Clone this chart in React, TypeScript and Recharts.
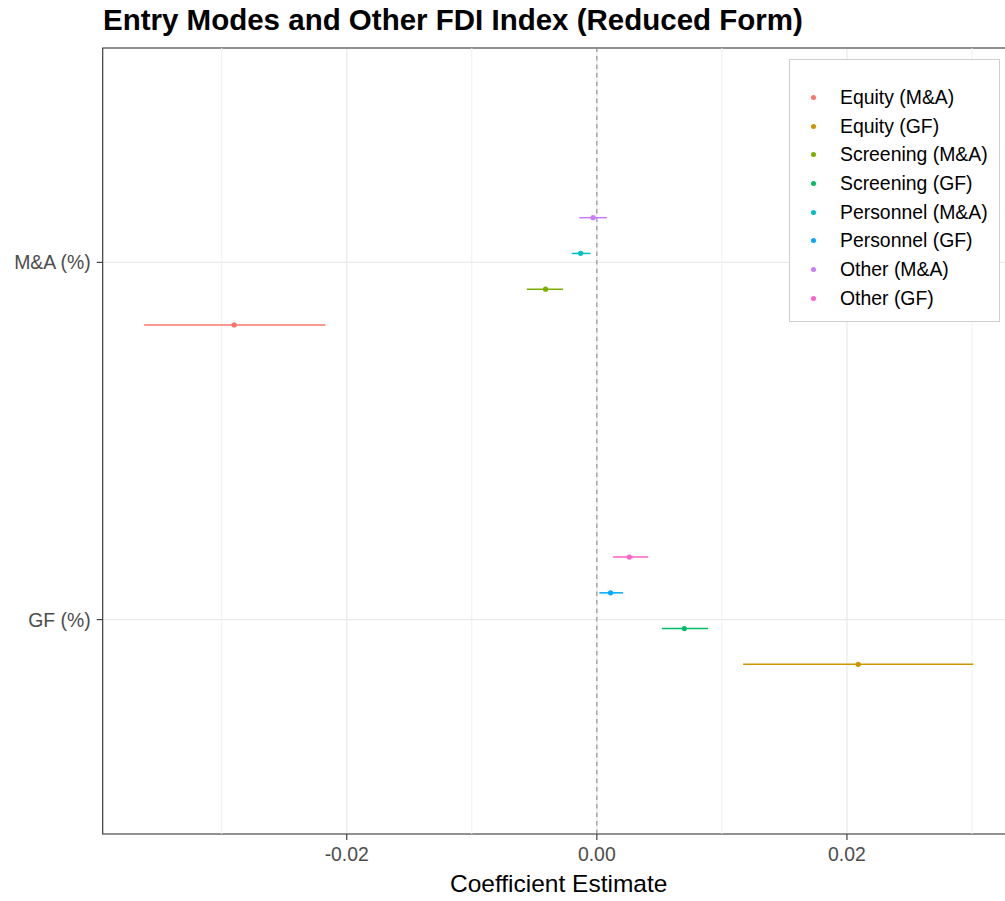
import {
  ScatterChart, Scatter, XAxis, YAxis, CartesianGrid,
  ReferenceLine, ReferenceArea, ErrorBar,
} from 'recharts'

// ── Data ──────────────────────────────────────────────────────────────────────

const SERIES = [
  'Equity (M&A)', 'Equity (GF)', 'Screening (M&A)', 'Screening (GF)',
  'Personnel (M&A)', 'Personnel (GF)', 'Other (M&A)', 'Other (GF)',
]
const OUTCOME = ['M&A (%)', 'GF (%)', 'M&A (%)', 'GF (%)', 'M&A (%)', 'GF (%)', 'M&A (%)', 'GF (%)']
const ESTIMATE = [-0.0290, 0.0209, -0.0041, 0.0070, -0.0013, 0.0011, -0.0003, 0.0026]
const LOWER    = [-0.0362, 0.0117, -0.0056, 0.0052, -0.0020, 0.0002, -0.0014, 0.0013]
const UPPER    = [-0.0217, 0.0301, -0.0027, 0.0089, -0.0005, 0.0021, 0.0008, 0.0041]

// y categories, bottom to top
const CATEGORIES = ['GF (%)', 'M&A (%)']
const X_TICKS = [-0.02, 0, 0.02]
const X_MINOR = [-0.03, -0.01, 0.01, 0.03]

// ggplot default hue palette, 8 levels
const COLORS = [
  '#F8766D', '#CD9600', '#7CAE00', '#00BE67',
  '#00BFC4', '#00A9FF', '#C77CFF', '#FF61CC',
]

const FONT = '"Liberation Sans", Arial, sans-serif'

// ── Helpers ───────────────────────────────────────────────────────────────────

const DODGE = 0.4
const lo = Math.min(...LOWER)
const hi = Math.max(...UPPER)
const pad = (hi - lo) * 0.05
const X_DOMAIN: [number, number] = [lo - pad, hi + pad]
const Y_DOMAIN: [number, number] = [0.4, CATEGORIES.length + 0.6]

const seriesData = SERIES.map((name, i) => {
  const slot = DODGE / SERIES.length
  const y = CATEGORIES.indexOf(OUTCOME[i]) + 1 + (i - (SERIES.length - 1) / 2) * slot
  return {
    name,
    color: COLORS[i],
    data: [{ x: ESTIMATE[i], y, err: [ESTIMATE[i] - LOWER[i], UPPER[i] - ESTIMATE[i]] }],
  }
})

// eslint-disable-next-line @typescript-eslint/no-explicit-any
const dot = (color: string) => (props: any) => (
  <circle cx={props.cx} cy={props.cy} r={2.6} fill={color} />
)

// ── Legend ────────────────────────────────────────────────────────────────────

function LegendBox() {
  return (
    <div
      style={{
        position: 'absolute', left: 789, top: 59, width: 211, height: 263,
        border: '1px solid #cfcfcf', background: '#fff', fontFamily: FONT,
        paddingTop: 23, boxSizing: 'border-box',
      }}
    >
      {SERIES.map((s, i) => (
        <div key={s} style={{ height: 28.7, display: 'flex', alignItems: 'center' }}>
          <span
            style={{
              width: 5, height: 5, borderRadius: '50%', background: COLORS[i],
              marginLeft: 21, marginRight: 24, flexShrink: 0,
            }}
          />
          <span style={{ fontSize: 19.4, color: '#000', whiteSpace: 'nowrap' }}>{s}</span>
        </div>
      ))}
    </div>
  )
}

// ── Main ──────────────────────────────────────────────────────────────────────

export default function App() {
  return (
    <div
      style={{
        position: 'absolute', left: 0, top: 0, width: 1005, height: 901,
        overflow: 'hidden', background: '#fff',
      }}
    >
      <div
        style={{
          position: 'absolute', left: 103, top: 5, fontFamily: FONT,
          fontWeight: 'bold', fontSize: 29.5, lineHeight: 1, color: '#000',
          whiteSpace: 'nowrap',
        }}
      >
        Entry Modes and Other FDI Index (Reduced Form)
      </div>

      <ScatterChart
        width={1030}
        height={901}
        margin={{ top: 48, right: 15.3, bottom: 0, left: 0 }}
        style={{ position: 'absolute', left: 0, top: 0, fontFamily: FONT }}
      >
        <CartesianGrid stroke="#EBEBEB" strokeWidth={1.3} />
        {X_MINOR.map((v) => (
          <ReferenceLine key={v} x={v} stroke="#EEEEEE" strokeWidth={0.9} />
        ))}
        <XAxis
          type="number"
          dataKey="x"
          domain={X_DOMAIN}
          allowDataOverflow
          ticks={X_TICKS}
          tickFormatter={(v: number) => v.toFixed(2)}
          axisLine={false}
          tickLine={{ stroke: '#333333', strokeWidth: 1.1 }}
          tickSize={6}
          tickMargin={7}
          height={67}
          tick={{ fill: '#4D4D4D', fontSize: 19.4 }}
          label={{
            value: 'Coefficient Estimate', position: 'insideBottom', offset: 9,
            fill: '#000', fontSize: 24.5,
          }}
        />
        <YAxis
          type="number"
          dataKey="y"
          domain={Y_DOMAIN}
          allowDataOverflow
          ticks={CATEGORIES.map((_, i) => i + 1)}
          tickFormatter={(v: number) => CATEGORIES[v - 1] ?? ''}
          axisLine={false}
          tickLine={{ stroke: '#333333', strokeWidth: 1.1 }}
          tickSize={6}
          tickMargin={6}
          width={102.7}
          tick={{ fill: '#4D4D4D', fontSize: 19.4 }}
        />
        <ReferenceLine x={0} stroke="#8c8c8c" strokeWidth={1.1} strokeDasharray="4.5 4" />
        <ReferenceArea
          x1={X_DOMAIN[0]} x2={X_DOMAIN[1]} y1={Y_DOMAIN[0]} y2={Y_DOMAIN[1]}
          fill="none" stroke="#333333" strokeWidth={1.1} fillOpacity={0}
        />
        {seriesData.map((s) => (
          <Scatter
            key={s.name}
            name={s.name}
            data={s.data}
            fill={s.color}
            shape={dot(s.color)}
            isAnimationActive={false}
          >
            <ErrorBar
              dataKey="err"
              direction="x"
              width={0}
              stroke={s.color}
              strokeWidth={1.5}
              isAnimationActive={false}
            />
          </Scatter>
        ))}
      </ScatterChart>

      <LegendBox />
    </div>
  )
}
